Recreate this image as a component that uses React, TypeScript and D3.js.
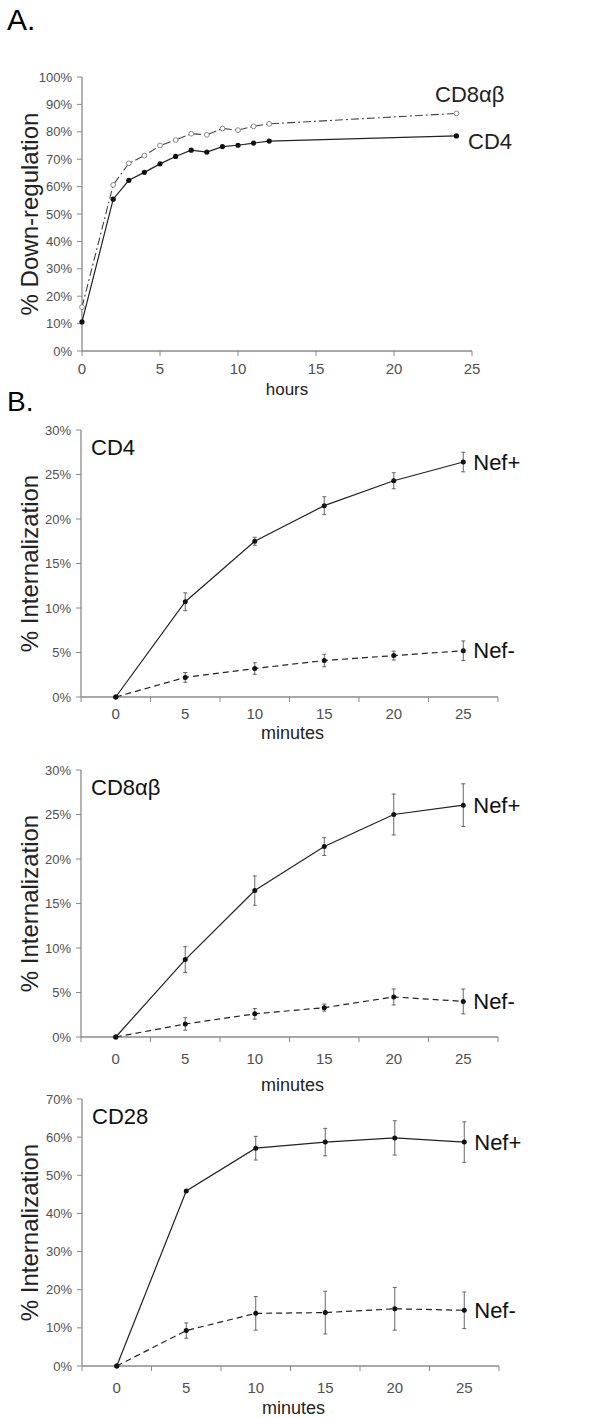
import React from "react";
import * as d3 from "d3";

// ---- Panel A: % down-regulation over hours ----
const hoursA = [0, 2, 3, 4, 5, 6, 7, 8, 9, 10, 11, 12, 24];
const cd4Down = [10.6, 55.4, 62.3, 65.2, 68.3, 71.0, 73.3, 72.6, 74.6, 75.1, 75.9, 76.6, 78.5];
const cd8Down = [16.0, 60.6, 68.5, 71.3, 75.0, 77.0, 79.3, 78.9, 81.2, 80.6, 82.0, 82.9, 86.7];
const hourTicks = [0, 5, 10, 15, 20, 25];
const downTicks = [0, 10, 20, 30, 40, 50, 60, 70, 80, 90, 100];

// ---- Panel B: % internalization over minutes ----
const minutes = [0, 5, 10, 15, 20, 25];

const cd4NefPlus = [0, 10.7, 17.5, 21.5, 24.3, 26.4];
const cd4NefPlusErr = [0, 1.0, 0.45, 1.0, 0.9, 1.1];
const cd4NefMinus = [0, 2.2, 3.2, 4.1, 4.65, 5.2];
const cd4NefMinusErr = [0, 0.55, 0.65, 0.7, 0.5, 1.1];

const cd8NefPlus = [0, 8.7, 16.45, 21.4, 25.0, 26.05];
const cd8NefPlusErr = [0, 1.45, 1.65, 1.0, 2.3, 2.4];
const cd8NefMinus = [0, 1.46, 2.6, 3.3, 4.5, 4.0];
const cd8NefMinusErr = [0, 0.7, 0.6, 0.4, 0.9, 1.4];

const cd28NefPlus = [0, 45.9, 57.1, 58.7, 59.8, 58.7];
const cd28NefPlusErr = [0, 0, 3.1, 3.6, 4.5, 5.3];
const cd28NefMinus = [0, 9.3, 13.8, 14.0, 15.0, 14.6];
const cd28NefMinusErr = [0, 2.0, 4.4, 5.6, 5.6, 4.8];

const ticks30 = [0, 5, 10, 15, 20, 25, 30];
const ticks70 = [0, 10, 20, 30, 40, 50, 60, 70];

const FONT = "Liberation Sans, Arial, sans-serif";
const AXIS = "#8a8a8a";
const TICKTXT = "#505050";
const LINE = "#222";

const fmtPct = (v: number) => `${v}%`;

function PanelA() {
  const x = d3.scaleLinear().domain([0, 25]).range([82, 472]);
  const y = d3.scaleLinear().domain([0, 100]).range([351, 77]);
  const pts4 = hoursA.map((h, i) => [x(h), y(cd4Down[i])] as [number, number]);
  const pts8 = hoursA.map((h, i) => [x(h), y(cd8Down[i])] as [number, number]);
  const line = d3.line();
  return (
    <g>
      <text x={7} y={30} fontSize={30} fontFamily={FONT}>A.</text>
      {/* axes */}
      <line x1={x(0)} x2={x(0)} y1={y(0)} y2={y(100)} stroke={AXIS} strokeWidth={1.3} />
      <line x1={x(0)} x2={x(25)} y1={y(0)} y2={y(0)} stroke={AXIS} strokeWidth={1.3} />
      {downTicks.map((t) => (
        <g key={"ya" + t}>
          <line x1={x(0) - 5} x2={x(0)} y1={y(t)} y2={y(t)} stroke={AXIS} />
          <text x={x(0) - 10} y={y(t)} dy="0.35em" textAnchor="end" fontSize={13} fill={TICKTXT} fontFamily={FONT}>
            {fmtPct(t)}
          </text>
        </g>
      ))}
      {hourTicks.map((t) => (
        <g key={"xa" + t}>
          <line x1={x(t)} x2={x(t)} y1={y(0)} y2={y(0) + 5} stroke={AXIS} />
          <text x={x(t)} y={y(0) + 18} dy="0.35em" textAnchor="middle" fontSize={15} fill={TICKTXT} fontFamily={FONT}>
            {t}
          </text>
        </g>
      ))}
      <text x={(x(0) + x(25)) / 2 + 10} y={y(0) + 38} dy="0.35em" textAnchor="middle" fontSize={17} fontFamily={FONT} fill="#222">
        hours
      </text>
      <text
        transform={`translate(30,${(y(0) + y(100)) / 2}) rotate(-90)`}
        textAnchor="middle"
        dy="0.35em"
        fontSize={24}
        fontFamily={FONT}
        fill="#222"
      >
        % Down-regulation
      </text>
      {/* series */}
      <path d={line(pts8) || ""} fill="none" stroke="#444" strokeWidth={1.1} strokeDasharray="8,3,2,3" />
      <path d={line(pts4) || ""} fill="none" stroke={LINE} strokeWidth={1.2} />
      {pts8.map((p, i) => (
        <circle key={"c8" + i} cx={p[0]} cy={p[1]} r={2.4} fill="#fff" stroke="#888" strokeWidth={1} />
      ))}
      {pts4.map((p, i) => (
        <circle key={"c4" + i} cx={p[0]} cy={p[1]} r={2.6} fill="#111" />
      ))}
      <text x={435} y={102} fontSize={22} fontFamily={FONT} fill="#222">CD8αβ</text>
      <text x={468} y={149} fontSize={22} fontFamily={FONT} fill="#222">CD4</text>
    </g>
  );
}

type PanelProps = {
  title: string;
  yMax: number;
  yTicks: number[];
  yTop: number;
  yBottom: number;
  xLeft: number;
  xRight: number;
  tickGap: number;
  labelGap: number;
  plus: number[];
  plusErr: number[];
  minus: number[];
  minusErr: number[];
};

function InternalizationPanel(p: PanelProps) {
  const x = d3.scaleBand<number>().domain(minutes).range([p.xLeft, p.xRight]);
  const cx = (m: number) => (x(m) as number) + x.bandwidth() / 2;
  const y = d3.scaleLinear().domain([0, p.yMax]).range([p.yBottom, p.yTop]);
  const line = d3.line();
  const edges = minutes.map((m) => x(m) as number).concat([p.xRight]);
  const series = [
    { vals: p.plus, errs: p.plusErr, dash: undefined as string | undefined, label: "Nef+" },
    { vals: p.minus, errs: p.minusErr, dash: "6,4", label: "Nef-" },
  ];
  return (
    <g>
      <line x1={p.xLeft} x2={p.xLeft} y1={y(0)} y2={y(p.yMax)} stroke={AXIS} strokeWidth={1.3} />
      <line x1={p.xLeft} x2={p.xRight} y1={y(0)} y2={y(0)} stroke={AXIS} strokeWidth={1.3} />
      {p.yTicks.map((t) => (
        <g key={"y" + t}>
          <line x1={p.xLeft - 5} x2={p.xLeft} y1={y(t)} y2={y(t)} stroke={AXIS} />
          <text x={p.xLeft - 10} y={y(t)} dy="0.35em" textAnchor="end" fontSize={13} fill={TICKTXT} fontFamily={FONT}>
            {fmtPct(t)}
          </text>
        </g>
      ))}
      {edges.map((e, i) => (
        <line key={"e" + i} x1={e} x2={e} y1={y(0)} y2={y(0) + 5} stroke={AXIS} />
      ))}
      {minutes.map((m) => (
        <text key={"xl" + m} x={cx(m)} y={y(0) + p.tickGap} dy="0.35em" textAnchor="middle" fontSize={15} fill={TICKTXT} fontFamily={FONT}>
          {m}
        </text>
      ))}
      <text x={(p.xLeft + p.xRight) / 2 + 3} y={y(0) + p.labelGap} dy="0.35em" textAnchor="middle" fontSize={18} fontFamily={FONT} fill="#222">
        minutes
      </text>
      <text
        transform={`translate(30,${(y(0) + y(p.yMax)) / 2}) rotate(-90)`}
        textAnchor="middle"
        dy="0.35em"
        fontSize={24}
        fontFamily={FONT}
        fill="#222"
      >
        % Internalization
      </text>
      <text x={p.xLeft + 10} y={y(p.yMax) + 25} fontSize={22} fontFamily={FONT} fill="#111">
        {p.title}
      </text>
      {series.map((s, si) => {
        const pts = minutes.map((m, i) => [cx(m), y(s.vals[i])] as [number, number]);
        const last = pts[pts.length - 1];
        return (
          <g key={"s" + si}>
            <path d={line(pts) || ""} fill="none" stroke={LINE} strokeWidth={1.2} strokeDasharray={s.dash} />
            {minutes.map((m, i) =>
              s.errs[i] > 0 ? (
                <g key={"err" + i} stroke="#555" strokeWidth={0.9}>
                  <line x1={cx(m)} x2={cx(m)} y1={y(s.vals[i] - s.errs[i])} y2={y(s.vals[i] + s.errs[i])} />
                  <line x1={cx(m) - 2} x2={cx(m) + 2} y1={y(s.vals[i] - s.errs[i])} y2={y(s.vals[i] - s.errs[i])} />
                  <line x1={cx(m) - 2} x2={cx(m) + 2} y1={y(s.vals[i] + s.errs[i])} y2={y(s.vals[i] + s.errs[i])} />
                </g>
              ) : null
            )}
            {pts.map((pt, i) => (
              <circle key={"pt" + i} cx={pt[0]} cy={pt[1]} r={2.5} fill="#111" />
            ))}
            <text x={last[0] + 10} y={last[1]} dy="0.35em" fontSize={22} fontFamily={FONT} fill="#111">
              {s.label}
            </text>
          </g>
        );
      })}
    </g>
  );
}

export default function App() {
  return (
    <svg
      width={595}
      height={1418}
      viewBox="0 0 595 1418"
      style={{ position: "absolute", left: 0, top: 0, background: "#fff" }}
    >
      <rect width={595} height={1418} fill="#fff" />
      <PanelA />
      <text x={7} y={411} fontSize={28} fontFamily={FONT}>B.</text>
      <InternalizationPanel
        title="CD4"
        yMax={30}
        yTicks={ticks30}
        yTop={430}
        yBottom={697}
        xLeft={81}
        xRight={498}
        tickGap={17}
        labelGap={36}
        plus={cd4NefPlus}
        plusErr={cd4NefPlusErr}
        minus={cd4NefMinus}
        minusErr={cd4NefMinusErr}
      />
      <InternalizationPanel
        title="CD8αβ"
        yMax={30}
        yTicks={ticks30}
        yTop={770}
        yBottom={1037}
        xLeft={81}
        xRight={498}
        tickGap={22}
        labelGap={48}
        plus={cd8NefPlus}
        plusErr={cd8NefPlusErr}
        minus={cd8NefMinus}
        minusErr={cd8NefMinusErr}
      />
      <InternalizationPanel
        title="CD28"
        yMax={70}
        yTicks={ticks70}
        yTop={1099}
        yBottom={1366}
        xLeft={82}
        xRight={499}
        tickGap={22}
        labelGap={42}
        plus={cd28NefPlus}
        plusErr={cd28NefPlusErr}
        minus={cd28NefMinus}
        minusErr={cd28NefMinusErr}
      />
    </svg>
  );
}
